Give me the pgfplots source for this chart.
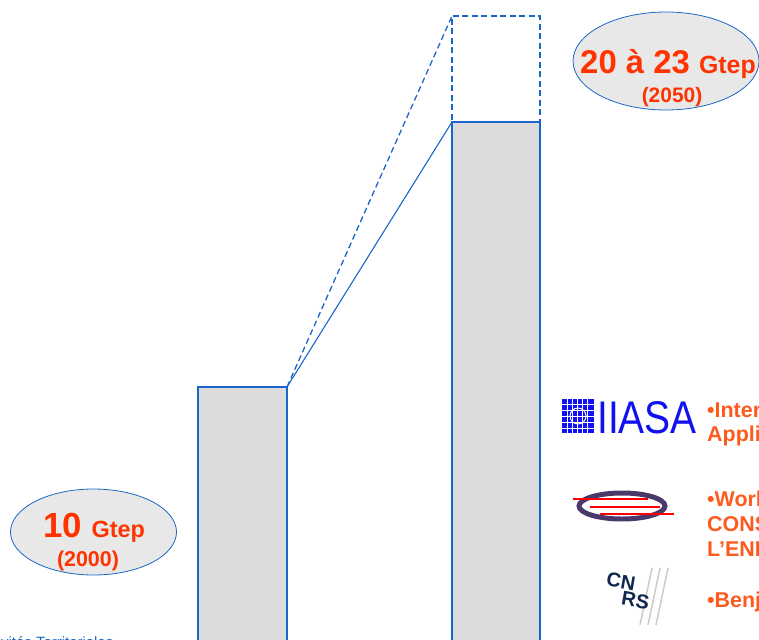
\documentclass[border=0pt]{standalone}
\usepackage{pgfplots}
\pgfplotsset{compat=1.18}
\usepackage{fontspec}
\setmainfont{Liberation Sans}
\usetikzlibrary{shapes.geometric}
\definecolor{barblue}{HTML}{1A66C8}
\definecolor{barfill}{HTML}{DCDCDC}
\definecolor{ellfill}{HTML}{E8E8E8}
\definecolor{redorange}{HTML}{FF3300}
\definecolor{orange2}{HTML}{FF5A1E}
\definecolor{iiasa}{HTML}{1010F0}
\definecolor{wec}{HTML}{4A3A6A}
\definecolor{cnrs}{HTML}{102850}
\begin{document}
\begin{tikzpicture}
\begin{axis}[
  scale only axis, width=759bp, height=640bp,
  xmin=0, xmax=759, ymin=0.4528, ymax=24.604,
  axis lines=none, clip=true,
]
% bar 2000 : 10 Gtep
\addplot[draw=barblue, line width=1.1pt, fill=barfill] coordinates {(198,0) (198,10) (287,10) (287,0)};
% bar 2050 : upper estimate (dashed)
\addplot[draw=barblue, line width=1.3pt, dash pattern=on 6bp off 3.5bp, fill=white] coordinates {(452,0) (452,24) (540,24) (540,0)};
% bar 2050 : lower estimate
\addplot[draw=barblue, line width=1.1pt, fill=barfill] coordinates {(452,0) (452,20) (540,20) (540,0)};
% connecting lines
\addplot[draw=barblue, line width=1.1pt] coordinates {(287,10) (452,20)};
\addplot[draw=barblue, line width=1.3pt, dash pattern=on 6bp off 3.5bp] coordinates {(287,10) (452,24)};
\end{axis}
\begin{axis}[
  scale only axis, width=759bp, height=640bp,
  xmin=0, xmax=759, ymin=0, ymax=640, y dir=reverse,
  axis lines=none, clip=false,
]
% ellipses
\node[ellipse, draw=barblue, line width=0.8pt, fill=ellfill, minimum width=166bp, minimum height=86bp, inner sep=0pt] at (axis cs:93.5,532) {};
\node[ellipse, draw=barblue, line width=0.8pt, fill=ellfill, minimum width=186bp, minimum height=98bp, inner sep=0pt] at (axis cs:666,61) {};
\node[text=redorange, font=\bfseries, inner sep=0pt] at (axis cs:94,528) {\fontsize{35}{38}\selectfont 10 \fontsize{23.5}{26}\selectfont Gtep};
\node[text=redorange, font=\bfseries, inner sep=0pt] at (axis cs:88,561) {\fontsize{21.5}{24}\selectfont (2000)};
\node[text=redorange, font=\bfseries, inner sep=0pt] at (axis cs:668,64) {\fontsize{33}{36}\selectfont 20 à 23 \fontsize{25}{27}\selectfont Gtep};
\node[text=redorange, font=\bfseries, inner sep=0pt] at (axis cs:672,97) {\fontsize{21}{23}\selectfont (2050)};
% right-hand texts
\node[text=orange2, font={\fontsize{21.5}{24}\selectfont\bfseries}, anchor=base west, inner sep=0pt, align=left] at (axis cs:707,441) {•International Institute for\\Applied Systems Analysis};
\node[text=orange2, font={\fontsize{21.5}{25}\selectfont\bfseries}, anchor=base west, inner sep=0pt, align=left] at (axis cs:707,556) {•World Energy Council\\CONSEIL MONDIAL DE\\L'ENERGIE};
\node[text=orange2, font={\fontsize{21.5}{25}\selectfont\bfseries}, anchor=base west, inner sep=0pt] at (axis cs:707,607) {•Benjamin Dessus};
% IIASA logo
\fill[iiasa] (axis cs:562,399) rectangle (axis cs:594,433);
\draw[white, line width=0.6pt] (axis cs:567,399) -- (axis cs:567,433) (axis cs:572,399) -- (axis cs:572,433) (axis cs:577,399) -- (axis cs:577,433) (axis cs:582,399) -- (axis cs:582,433) (axis cs:587,399) -- (axis cs:587,433);
\draw[white, line width=0.6pt] (axis cs:562,404) -- (axis cs:594,404) (axis cs:562,410) -- (axis cs:594,410) (axis cs:562,416) -- (axis cs:594,416) (axis cs:562,422) -- (axis cs:594,422) (axis cs:562,428) -- (axis cs:594,428);
\draw[white, line width=1pt] (axis cs:578,416) circle (8bp);
\node[text=iiasa, anchor=base west, inner sep=0pt, xscale=0.85] at (axis cs:597,433) {\fontsize{46}{46}\selectfont IIASA};
% WEC logo
\draw[wec, line width=5pt] (axis cs:622,506) ellipse (43bp and 13bp);
\draw[red, line width=1.5pt] (axis cs:573,499) -- (axis cs:648,499);
\draw[red, line width=1.5pt] (axis cs:590,507) -- (axis cs:660,507);
\draw[red, line width=1.5pt] (axis cs:600,514) -- (axis cs:674,514);
% CNRS logo
\draw[gray!40, line width=1.5pt] (axis cs:640,625) -- (axis cs:652,568) (axis cs:648,625) -- (axis cs:660,568) (axis cs:656,625) -- (axis cs:668,568);
\node[text=cnrs, inner sep=0pt, rotate=-10, align=left, font={\fontsize{20}{16}\selectfont\bfseries}] at (axis cs:628,591) {CN\\\hspace*{0.9em}RS};
% bottom-left caption (cut)
\node[text=barblue, anchor=base west, inner sep=0pt] at (axis cs:-48,647) {\fontsize{15}{15}\selectfont Collectivités Territoriales};
\end{axis}
\pgfresetboundingbox
\path[use as bounding box] (0,0) rectangle (759bp,640bp);
\end{tikzpicture}
\end{document}
